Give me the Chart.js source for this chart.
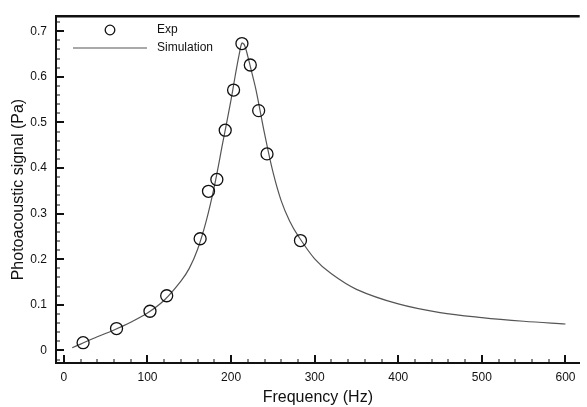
<!DOCTYPE html>
<html>
<head>
<meta charset="utf-8">
<script src="https://cdn.jsdelivr.net/npm/chart.js@4.4.0/dist/chart.umd.min.js"></script>
<style>
  html, body { margin: 0; padding: 0; background: #fff; }
  #wrap { width: 587px; height: 407px; }
</style>
</head>
<body>
<div id="wrap"><canvas id="myChart"></canvas></div>
<script>
// measured points
var expFreq = [23, 63, 103, 123, 163, 173, 183, 193, 203, 213, 223, 233, 243, 283];
var expSignal = [0.017, 0.048, 0.086, 0.120, 0.245, 0.349, 0.375, 0.483, 0.571, 0.673, 0.626, 0.526, 0.431, 0.241];

// simulated curve
var simFreq = [10, 20, 40, 60, 80, 100, 120, 140, 150, 160, 170, 180, 190, 200, 205, 210, 213, 216, 220, 225, 230, 240, 250, 260, 270, 280, 300, 320, 350, 400, 450, 500, 550, 600];
var simSignal = [0.006, 0.014, 0.030, 0.045, 0.062, 0.082, 0.110, 0.152, 0.180, 0.222, 0.282, 0.360, 0.455, 0.550, 0.603, 0.652, 0.674, 0.670, 0.645, 0.608, 0.570, 0.476, 0.392, 0.328, 0.284, 0.252, 0.201, 0.168, 0.134, 0.102, 0.083, 0.072, 0.064, 0.058];

var xTicks = [0, 100, 200, 300, 400, 500, 600];
var yTicks = [0, 0.1, 0.2, 0.3, 0.4, 0.5, 0.6, 0.7];
var xMinorStep = 20;
var yMinorStep = 0.02;

var expPoints = expFreq.map(function(f, i) { return {x: f, y: expSignal[i]}; });
var simPoints = simFreq.map(function(f, i) { return {x: f, y: simSignal[i]}; });

// inward ticks, top frame line and the legend box
var framePlugin = {
  id: 'frame',
  afterDraw: function(chart) {
    var ctx = chart.ctx;
    var area = chart.chartArea;
    var xs = chart.scales.x;
    var ys = chart.scales.y;
    ctx.save();
    ctx.strokeStyle = '#111';

    // top line
    ctx.lineWidth = 2.5;
    ctx.beginPath();
    ctx.moveTo(area.left - 1, area.top);
    ctx.lineTo(area.right, area.top);
    ctx.stroke();

    // x ticks
    for (var v = 0; v <= xs.max; v += xMinorStep) {
      var px = Math.round(xs.getPixelForValue(v));
      var major = xTicks.indexOf(v) >= 0;
      ctx.lineWidth = major ? 2 : 1;
      ctx.beginPath();
      ctx.moveTo(px, area.bottom);
      ctx.lineTo(px, area.bottom - (major ? 8 : 4));
      ctx.stroke();
    }
    // y ticks
    for (var k = -1; k * yMinorStep <= ys.max; k++) {
      var val = k * yMinorStep;
      if (val < ys.min) continue;
      var py = Math.round(ys.getPixelForValue(val));
      var isMajor = k % 5 === 0;
      ctx.lineWidth = isMajor ? 2 : 1;
      ctx.beginPath();
      ctx.moveTo(area.left, py);
      ctx.lineTo(area.left + (isMajor ? 8 : 4), py);
      ctx.stroke();
    }

    // legend
    var exp = chart.data.datasets[0];
    var sim = chart.data.datasets[1];
    ctx.font = '12px "Liberation Sans", Arial, sans-serif';
    ctx.fillStyle = '#111';
    ctx.textBaseline = 'middle';
    ctx.lineWidth = 1.3;
    ctx.strokeStyle = exp.borderColor;
    ctx.beginPath();
    ctx.arc(110, 30, 4.8, 0, Math.PI * 2);
    ctx.stroke();
    ctx.fillText(exp.label, 157, 30);
    ctx.strokeStyle = sim.borderColor;
    ctx.lineWidth = sim.borderWidth;
    ctx.beginPath();
    ctx.moveTo(73, 48);
    ctx.lineTo(147, 48);
    ctx.stroke();
    ctx.fillText(sim.label, 157, 48);
    ctx.restore();
  }
};

var ctx = document.getElementById('myChart').getContext('2d');
var myChart = new Chart(ctx, {
  type: 'scatter',
  data: {
    datasets: [{
      label: 'Exp',
      data: expPoints,
      showLine: false,
      pointStyle: 'circle',
      pointRadius: 6,
      pointBorderWidth: 1.3,
      borderColor: '#111',
      backgroundColor: 'rgba(0,0,0,0)',
      order: 0
    }, {
      label: 'Simulation',
      data: simPoints,
      showLine: true,
      pointRadius: 0,
      borderColor: '#555',
      borderWidth: 1.2,
      tension: 0.35,
      fill: false,
      order: 1
    }]
  },
  options: {
    responsive: true,
    maintainAspectRatio: false,
    animation: false,
    layout: { padding: { top: 12, right: 0, left: 0, bottom: 0 } },
    plugins: {
      legend: { display: false },
      tooltip: { enabled: false }
    },
    scales: {
      x: {
        type: 'linear',
        min: -9.4,
        max: 617,
        afterBuildTicks: function(scale) {
          scale.ticks = xTicks.map(function(v) { return {value: v}; });
        },
        afterFit: function(scale) { scale.height = 44; },
        grid: { display: false, drawTicks: false },
        border: { display: true, color: '#111', width: 2 },
        ticks: {
          padding: 7,
          color: '#111',
          maxRotation: 0,
          font: { family: '"Liberation Sans", Arial, sans-serif', size: 12 }
        },
        title: {
          display: true,
          text: 'Frequency (Hz)',
          color: '#111',
          padding: { top: 0, bottom: 0 },
          font: { family: '"Liberation Sans", Arial, sans-serif', size: 16 }
        }
      },
      y: {
        type: 'linear',
        min: -0.0275,
        max: 0.733,
        afterBuildTicks: function(scale) {
          scale.ticks = yTicks.map(function(v) { return {value: v}; });
        },
        afterFit: function(scale) { scale.width = 56; },
        grid: { display: false, drawTicks: false },
        border: { display: true, color: '#111', width: 2 },
        ticks: {
          padding: 9,
          color: '#111',
          font: { family: '"Liberation Sans", Arial, sans-serif', size: 12 },
          callback: function(v) { return String(Math.round(v * 10) / 10); }
        },
        title: {
          display: true,
          text: 'Photoacoustic signal (Pa)',
          color: '#111',
          padding: { top: 9, bottom: 0 },
          font: { family: '"Liberation Sans", Arial, sans-serif', size: 16 }
        }
      }
    }
  },
  plugins: [framePlugin]
});
</script>
</body>
</html>
